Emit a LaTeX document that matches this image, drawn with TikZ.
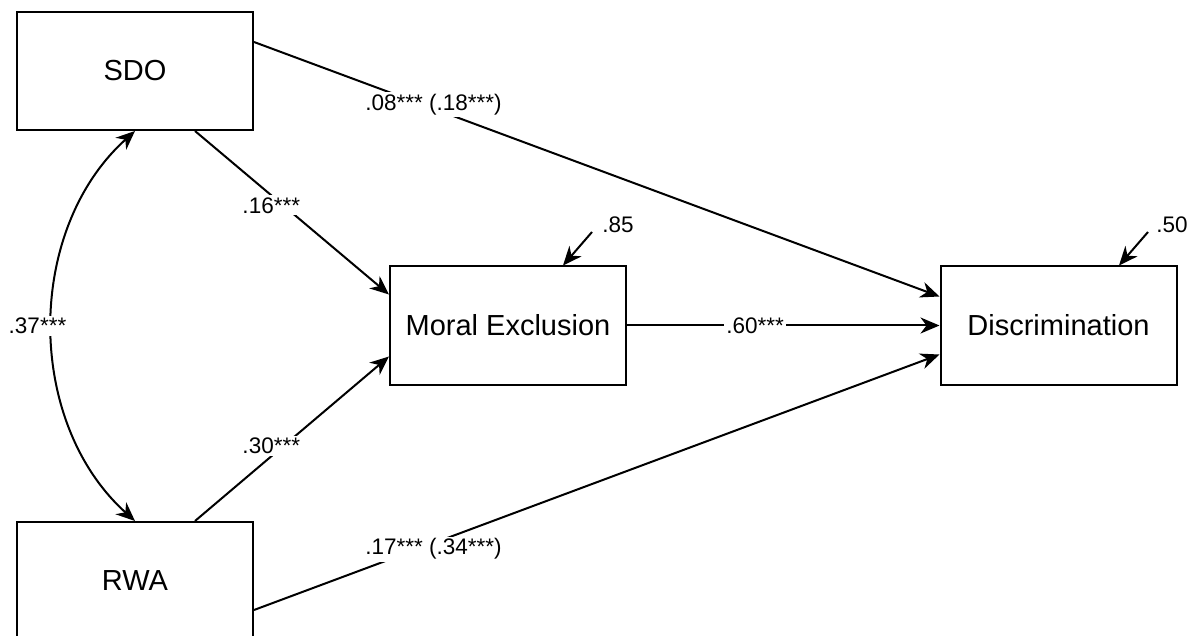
\documentclass[tikz,border=0pt]{standalone}
\usepackage{fontspec}
\setmainfont{Liberation Sans}
\usetikzlibrary{arrows.meta}
\begin{document}
\begin{tikzpicture}[x=1pt,y=-1pt,
  box/.style={draw, line width=2pt, minimum width=236pt, minimum height=118pt,
    inner sep=0pt, font=\fontsize{29}{34}\selectfont},
  arr/.style={line width=2pt, -{Stealth[length=19pt,width=16pt,inset=6pt]}},
  dbl/.style={line width=2pt, {Stealth[length=19pt,width=16pt,inset=6pt]}-{Stealth[length=19pt,width=16pt,inset=6pt]}},
  lbl/.style={fill=white, inner sep=2pt, font=\fontsize{22.5}{26}\selectfont},
  res/.style={inner sep=2pt, font=\fontsize{22.5}{26}\selectfont}]
\useasboundingbox (0,0) rectangle (1194,636);
\clip (0,0) rectangle (1194,636);

% variables
\node[box] (sdo) at (135,71) {SDO};
\node[box] (rwa) at (135,581) {RWA};
\node[box] (me)  at (508,325.5) {Moral Exclusion};
\node[box] (dis) at (1058.5,325.5) {Discrimination};

% paths to the mediator
\draw[arr] ([xshift=60pt]sdo.south) -- node[lbl,pos=.455,xshift=-12pt]{.16***} ([yshift=31pt]me.west);
\draw[arr] ([xshift=60pt]rwa.north) -- node[lbl,pos=.455,xshift=-12pt]{.30***} ([yshift=-31pt]me.west);

% paths to the outcome
\draw[arr] (me.east) -- node[lbl,pos=.41]{.60***} (dis.west);
\draw[arr] ([yshift=29pt]sdo.east) -- node[lbl,pos=.262,yshift=4pt]{.08*** (.18***)} ([yshift=29pt]dis.west);
\draw[arr] ([yshift=-29pt]rwa.east) -- node[lbl,pos=.262,yshift=-6pt]{.17*** (.34***)} ([yshift=-29pt]dis.west);

% covariance between the predictors
\draw[dbl] (sdo.south) .. controls (25,230) and (25,422) .. node[lbl,pos=.5,xshift=-15pt]{.37***} (rwa.north);

% residual variances
\coordinate (e1) at (592,232);
\draw[arr] (e1) -- ([xshift=55pt]me.north);
\node[res] (r1) at (618,225) {.85};
\coordinate (e2) at (1148,232);
\draw[arr] (e2) -- ([xshift=60.5pt]dis.north);
\node[res] (r2) at (1172,225) {.50};
\end{tikzpicture}
\end{document}
